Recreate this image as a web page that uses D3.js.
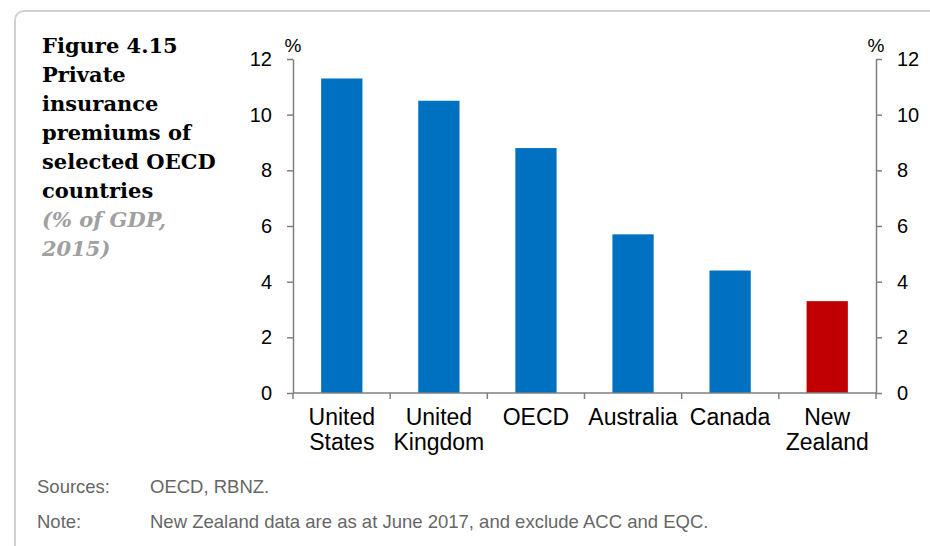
<!DOCTYPE html>
<html><head><meta charset="utf-8">
<script src="https://cdn.jsdelivr.net/npm/d3@7"></script>
<style>body{margin:0;background:#fff}svg{display:block}</style>
</head><body>
<svg id="c" width="930" height="546"></svg>
<script>
const categories = [["United","States"],["United","Kingdom"],["OECD"],["Australia"],["Canada"],["New","Zealand"]];
const values = [11.3, 10.5, 8.8, 5.7, 4.4, 3.3];
const barColors = ["#0070C0","#0070C0","#0070C0","#0070C0","#0070C0","#C00000"];
const yTicks = [0,2,4,6,8,10,12];
const titleLines = ["Figure 4.15","Private","insurance","premiums of","selected OECD","countries"];
const subtitleLines = ["(% of GDP,","2015)"];
const notes = [["Sources:","OECD, RBNZ."],["Note:","New Zealand data are as at June 2017, and exclude ACC and EQC."]];

const svg = d3.select("#c");
svg.append("rect").attr("x",15).attr("y",11).attr("width",940).attr("height",560).attr("rx",9)
  .attr("fill","none").attr("stroke","#d0d0d0").attr("stroke-width",2);

const L = 293, R = 876, T = 59, B = 393;
const x = d3.scaleBand().domain(d3.range(values.length)).range([L,R]).paddingInner(0.575).paddingOuter(0.29);
const y = d3.scaleLinear().domain([0,12]).range([B,T]);

svg.selectAll("rect.bar").data(values).join("rect").attr("class","bar")
  .attr("x",(d,i)=>x(i)).attr("width",x.bandwidth())
  .attr("y",d=>y(d)).attr("height",d=>y(0)-y(d))
  .attr("fill",(d,i)=>barColors[i]);

const axisColor = "#7f7f7f";
const font = "'Liberation Sans', Arial, sans-serif";
function styleAxis(g){
  g.selectAll("path,line").attr("stroke",axisColor).attr("stroke-width",1.5);
  g.selectAll("text").attr("font-family",font).attr("font-size",20).attr("fill","#000");
}
const gl = svg.append("g").attr("transform",`translate(${L},0)`)
  .call(d3.axisLeft(y).tickValues(yTicks).tickSize(6).tickSizeOuter(0).tickPadding(15));
styleAxis(gl);
const gr = svg.append("g").attr("transform",`translate(${R},0)`)
  .call(d3.axisRight(y).tickValues(yTicks).tickSize(6).tickSizeOuter(0).tickPadding(15));
styleAxis(gr);

// category axis
const gb = svg.append("g");
gb.append("line").attr("x1",L).attr("x2",R).attr("y1",B).attr("y2",B).attr("stroke",axisColor).attr("stroke-width",1.5);
const step = (R-L)/values.length;
const boundaries = d3.range(values.length+1).map(i=> L + i*step);
gb.selectAll("line.tk").data(boundaries).join("line").attr("class","tk")
  .attr("x1",d=>d).attr("x2",d=>d).attr("y1",B).attr("y2",B+6).attr("stroke",axisColor).attr("stroke-width",1.5);
const lbl = gb.selectAll("text").data(categories).join("text")
  .attr("x",(d,i)=>x(i)+x.bandwidth()/2).attr("y",B+32)
  .attr("text-anchor","middle").attr("font-family",font).attr("font-size",23).attr("fill","#000");
lbl.selectAll("tspan").data(d=>d).join("tspan")
  .attr("x",function(){return this.parentNode.getAttribute("x");})
  .attr("dy",(d,i)=>i===0?0:25).text(d=>d);

svg.append("text").attr("x",L).attr("y",52).attr("text-anchor","middle").attr("font-family",font).attr("font-size",19).text("%");
svg.append("text").attr("x",R).attr("y",52).attr("text-anchor","middle").attr("font-family",font).attr("font-size",19).text("%");

// title
const serif = "'DejaVu Serif', 'Liberation Serif', serif";
svg.selectAll("text.title").data(titleLines).join("text").attr("class","title")
  .attr("x",42).attr("y",(d,i)=>53+i*29).attr("font-family",serif).attr("font-weight","bold")
  .attr("font-size",21).attr("fill","#000").text(d=>d);
svg.selectAll("text.sub").data(subtitleLines).join("text").attr("class","sub")
  .attr("x",42).attr("y",(d,i)=>53+(titleLines.length+i)*29).attr("font-family",serif).attr("font-weight","bold")
  .attr("font-style","italic").attr("font-size",21).attr("fill","#a0a0a0").text(d=>d);

// notes
notes.forEach((n,i)=>{
  svg.append("text").attr("x",37).attr("y",493+i*35).attr("font-family",font).attr("font-size",18.5).attr("fill","#666").text(n[0]);
  svg.append("text").attr("x",150).attr("y",493+i*35).attr("font-family",font).attr("font-size",18.5).attr("fill","#666").text(n[1]);
});
</script>
</body></html>
